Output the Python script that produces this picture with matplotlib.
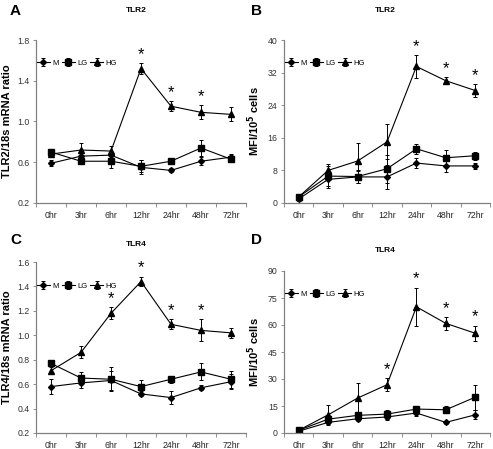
import matplotlib
matplotlib.use("Agg")
import matplotlib.pyplot as plt
import numpy as np

W, H = 493, 449
DPI = 100

TIMES = ["0hr", "3hr", "6hr", "12hr", "24hr", "48hr", "72hr"]
GROUPS = ["M", "LG", "HG"]
MARKERS = {"M": "D", "LG": "s", "HG": "^"}
MSIZES = {"M": 3.0, "LG": 4.0, "HG": 4.2}

# A: TLR2 mRNA
a_m = [0.59, 0.66, 0.67, 0.55, 0.52, 0.61, 0.65]
a_m_err = [0.03, 0.04, 0.03, 0.07, 0.02, 0.04, 0.03]
a_lg = [0.70, 0.61, 0.61, 0.56, 0.61, 0.74, 0.63]
a_lg_err = [0.02, 0.03, 0.07, 0.06, 0.02, 0.08, 0.03]
a_hg = [0.68, 0.72, 0.71, 1.52, 1.15, 1.09, 1.07]
a_hg_err = [0.03, 0.07, 0.05, 0.05, 0.05, 0.07, 0.07]
a_star = [3, 4, 5]

# B: TLR2 MFI
b_m = [1.0, 5.8, 6.4, 6.4, 9.8, 9.1, 9.1]
b_m_err = [0.5, 2.0, 1.5, 3.0, 1.2, 1.5, 0.8]
b_lg = [1.5, 6.6, 6.5, 8.4, 13.3, 11.1, 11.6]
b_lg_err = [0.5, 2.5, 1.5, 3.5, 1.2, 1.8, 1.0]
b_hg = [1.5, 8.0, 10.3, 15.0, 33.5, 30.0, 27.6]
b_hg_err = [0.5, 1.5, 4.5, 4.3, 2.8, 0.8, 1.5]
b_star = [4, 5, 6]

# C: TLR4 mRNA
c_m = [0.58, 0.61, 0.63, 0.52, 0.49, 0.57, 0.62]
c_m_err = [0.06, 0.04, 0.08, 0.02, 0.05, 0.02, 0.06]
c_lg = [0.77, 0.65, 0.64, 0.58, 0.64, 0.70, 0.64]
c_lg_err = [0.02, 0.05, 0.10, 0.05, 0.03, 0.07, 0.07]
c_hg = [0.71, 0.86, 1.18, 1.44, 1.09, 1.04, 1.02]
c_hg_err = [0.03, 0.05, 0.05, 0.04, 0.04, 0.09, 0.04]
c_star = [2, 3, 4, 5]

# D: TLR4 MFI
d_m = [1.0, 5.9, 7.9, 8.9, 11.1, 5.9, 10.1]
d_m_err = [0.5, 1.0, 1.0, 1.5, 1.5, 1.0, 2.5]
d_lg = [1.5, 7.7, 9.8, 10.5, 13.3, 12.9, 19.9]
d_lg_err = [0.5, 2.0, 2.0, 2.5, 1.5, 2.0, 7.0]
d_hg = [1.5, 10.1, 19.4, 26.8, 70.1, 60.9, 55.4]
d_hg_err = [0.5, 5.7, 8.5, 3.5, 10.5, 3.5, 4.3]
d_star = [3, 4, 5, 6]

NARROW = ["Liberation Sans Narrow", "Liberation Sans", "DejaVu Sans"]
BOLD = ["Liberation Sans", "DejaVu Sans"]
SPINE = "#808080"


def panel(rect, ylabel, ylim, yticks, yfmt, series, stars):
    l, r, t, b = rect
    ax = fig.add_axes([l / W, 1 - b / H, (r - l) / W, (b - t) / H])
    x = np.arange(len(TIMES))
    for name, (vals, errs) in zip(GROUPS, series):
        ax.errorbar(x, vals, yerr=errs, color="black", marker=MARKERS[name],
                    ms=MSIZES[name], lw=0.8, elinewidth=0.7, capsize=1.3,
                    capthick=0.7, label=name)
    hg, hg_err = series[2]
    for i in stars:
        ax.annotate("*", (x[i], hg[i] + hg_err[i]), xytext=(0, 1),
                    textcoords="offset points", ha="center", va="bottom",
                    fontsize=12, family=BOLD)
    ax.set_xlim(-0.5, 6.5)
    ax.set_ylim(*ylim)
    ax.set_yticks(yticks)
    ax.set_yticklabels([yfmt.format(v) for v in yticks])
    ax.set_xticks(x)
    ax.set_xticklabels(TIMES)
    ax.set_xticks(np.arange(-0.5, 7.0, 1.0), minor=True)
    ax.tick_params(axis="x", which="major", length=0, pad=6, labelsize=6.3,
                   labelcolor="#222222")
    ax.tick_params(axis="x", which="minor", length=3, width=0.6, color=SPINE,
                   direction="out")
    ax.tick_params(axis="y", length=2.5, width=0.6, color=SPINE, pad=2,
                   labelsize=6.3, labelcolor="#333333")
    for lab in ax.get_xticklabels() + ax.get_yticklabels():
        lab.set_family(NARROW)
    for s in ["top", "right"]:
        ax.spines[s].set_visible(False)
    for s in ["left", "bottom"]:
        ax.spines[s].set_color(SPINE)
        ax.spines[s].set_linewidth(0.9)
    ax.set_ylabel(ylabel, fontsize=8, fontweight="bold", family=BOLD, labelpad=4)
    leg = ax.legend(loc="upper left", ncol=3, frameon=False, fontsize=5.5,
                    handlelength=1.7, handletextpad=0.3, columnspacing=0.4,
                    borderaxespad=0.0, bbox_to_anchor=(-0.01, 0.90))
    for txt in leg.get_texts():
        txt.set_family(NARROW)
    return ax


fig = plt.figure(figsize=(W / DPI, H / DPI), dpi=DPI)

panel((36, 246, 40, 203), "TLR2/18s mRNA ratio", (0.2, 1.8),
      [0.2, 0.6, 1.0, 1.4, 1.8], "{:.1f}",
      [(a_m, a_m_err), (a_lg, a_lg_err), (a_hg, a_hg_err)], a_star)
panel((284, 490, 40, 203), r"MFI/10$^\mathbf{5}$ cells", (0, 40),
      [0, 8, 16, 24, 32, 40], "{:d}",
      [(b_m, b_m_err), (b_lg, b_lg_err), (b_hg, b_hg_err)], b_star)
panel((36, 246, 262, 433), "TLR4/18s mRNA ratio", (0.2, 1.6),
      [0.2, 0.4, 0.6, 0.8, 1.0, 1.2, 1.4, 1.6], "{:.1f}",
      [(c_m, c_m_err), (c_lg, c_lg_err), (c_hg, c_hg_err)], c_star)
panel((284, 490, 271, 433), r"MFI/10$^\mathbf{5}$ cells", (0, 90),
      [0, 15, 30, 45, 60, 75, 90], "{:d}",
      [(d_m, d_m_err), (d_lg, d_lg_err), (d_hg, d_hg_err)], d_star)

# panel letters and titles
for letter, lx, ly, title, tx, ty in [("A", 10, 11, "TLR2", 136, 11),
                                      ("B", 251, 11, "TLR2", 385, 11),
                                      ("C", 10, 240, "TLR4", 136, 245),
                                      ("D", 251, 240, "TLR4", 385, 250)]:
    fig.text(lx / W, 1 - ly / H, letter, fontsize=11, fontweight="bold",
             family=BOLD, ha="left", va="center")
    fig.text(tx / W, 1 - ty / H, title, fontsize=6, fontweight="bold",
             family=BOLD, ha="center", va="center")

fig.savefig("out.png", dpi=DPI)
